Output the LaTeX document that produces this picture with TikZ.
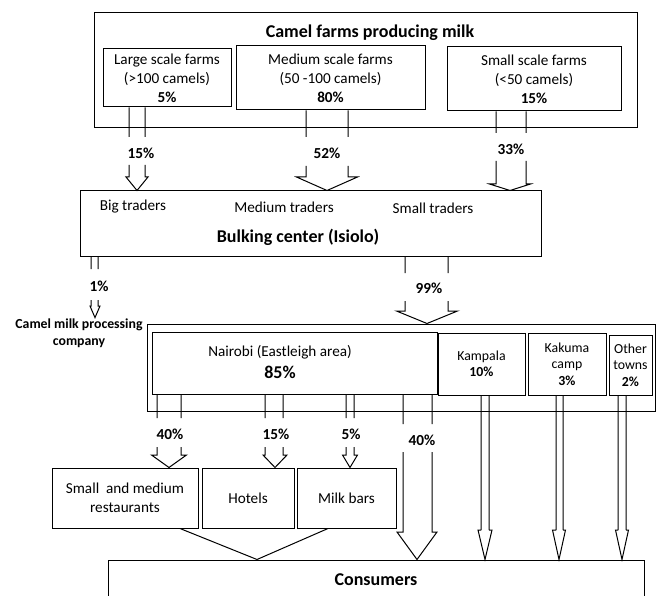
\documentclass[tikz,border=0pt]{standalone}
\usepackage{fontspec}
\setmainfont{Carlito}
\usepackage{tikz}
\tikzstyle{box} = [draw=black, line width=1pt, rectangle, inner sep=0pt, align=center, font=\fontsize{15.2}{19}\selectfont]
\tikzstyle{citybox} = [box, font=\fontsize{13.8}{16.5}\selectfont]
\tikzstyle{plain} = [inner sep=0pt, align=center, font=\fontsize{15.2}{20}\selectfont]
\tikzstyle{pct} = [inner sep=0pt, font=\bfseries\fontsize{15.3}{17}\selectfont]
\tikzstyle{headline} = [inner sep=0pt, font=\bfseries\fontsize{18}{20}\selectfont]
% open block arrow: src, dst, left x, right x, shaft end, shaft restart, head base, head half width, tip x
\newcommand{\flow}[9]{%
  \draw[line width=1pt] (#3,0 |- #1.south) -- (#3,#5) (#4,0 |- #1.south) -- (#4,#5)
    (#3,#6) -- (#3,#7) -- ({#9-#8},#7) -- (#9,0 |- #2.north) -- ({#9+#8},#7) -- (#4,#7) -- (#4,#6);}

\begin{document}
\begin{tikzpicture}[x=1pt,y=-1pt]
\useasboundingbox (0,0) rectangle (661,596);
\clip (0,0) rectangle (661,596);

% farms
\node[box, minimum width=543pt, minimum height=115pt] (farms) at (365.5,70.5) {};
\node[headline] (farmstitle) at (370,33) {Camel farms producing milk};
\node[box, minimum width=128pt, minimum height=58pt] (large) at (167,78)
  {Large scale farms\\(>100 camels)\\\textbf{5\%}};
\node[box, minimum width=189pt, minimum height=64pt] (medium) at (330.5,78)
  {Medium scale farms\\(50 -100 camels)\\\textbf{80\%}};
\node[box, minimum width=174pt, minimum height=64pt] (small) at (534,79)
  {Small scale farms\\(<50 camels)\\\textbf{15\%}};

% bulking center
\node[box, minimum width=461pt, minimum height=65pt] (bulk) at (310.5,223.5) {};
\node[plain] (bigtr) at (133,207) {Big traders};
\node[plain] (medtr) at (284,207) {Medium traders};
\node[plain] (smalltr) at (433,208) {Small traders};
\node[headline] (bulktitle) at (298,237) {Bulking center (Isiolo)};

\node[inner sep=1pt, align=center, font=\bfseries\fontsize{13.8}{16.5}\selectfont] (proc) at (79,333)
  {Camel milk processing\\company};

% destinations
\node[box, minimum width=508pt, minimum height=87pt] (dest) at (401,367.5) {};
\node[box, minimum width=285pt, minimum height=62pt] (nairobi) at (294.5,363) {};
\node[plain] (nairobitxt) at (280,352) {Nairobi (Eastleigh area)};
\node[headline] (nairobipct) at (280,372) {85\%};
\node[citybox, minimum width=87pt, minimum height=62pt] (kampala) at (481.5,364)
  {Kampala\\\textbf{10\%}};
\node[citybox, minimum width=78pt, minimum height=62pt] (kakuma) at (567,364)
  {Kakuma\\camp\\\textbf{3\%}};
\node[citybox, minimum width=43pt, minimum height=60pt] (other) at (630.5,365)
  {Other\\towns\\\textbf{2\%}};

% outlets
\node[box, minimum width=146pt, minimum height=60pt] (rest) at (125,498)
  {Small~ and medium\\restaurants};
\node[box, minimum width=92pt, minimum height=60pt] (hotel) at (248,498) {Hotels};
\node[box, minimum width=99pt, minimum height=60pt] (milk) at (346.5,498) {Milk bars};
\node[box, minimum width=536pt, minimum height=40pt, font=\bfseries\fontsize{18}{20}\selectfont] (cons) at (376,580) {Consumers};

% percentages
\node[pct] (p15) at (141,153) {15\%};
\node[pct] (p52) at (327,153) {52\%};
\node[pct] (p33) at (511,149) {33\%};
\node[pct] (p1) at (99,286) {1\%};
\node[pct] (p99) at (429,288) {99\%};
\node[pct] (p40a) at (170,434) {40\%};
\node[pct] (p15b) at (276,434) {15\%};
\node[pct] (p5) at (351,434) {5\%};
\node[pct] (p40b) at (422,440) {40\%};

% flows
\flow{large}{bulk}{129}{145}{137}{165}{177}{11}{137}
\flow{medium}{bulk}{306}{348}{137}{166}{177}{30.5}{327}
\flow{small}{bulk}{496}{526}{133}{161}{184}{20.5}{510}
\flow{bulk}{proc}{91}{98}{269}{300}{306}{5}{95}
\flow{bulk}{dest}{405}{448}{273}{301}{311}{30.5}{427}
\flow{nairobi}{rest}{157}{181}{418}{447}{455}{17.5}{169}
\flow{nairobi}{hotel}{265}{283}{418}{447}{455}{12}{275}
\flow{nairobi}{milk}{346}{354}{418}{447}{455}{7.5}{350}
\flow{nairobi}{cons}{403}{432}{424}{452}{532}{20}{417}
\flow{kampala}{cons}{481}{489}{530}{530}{530}{7}{485}
\flow{kakuma}{cons}{556}{563}{530}{530}{530}{6.5}{559}
\flow{other}{cons}{618}{626}{530}{530}{530}{6.5}{622}
\draw[line width=1pt] (180,0 |- rest.south) -- (257,0 |- cons.north) -- (328,0 |- milk.south);
\end{tikzpicture}
\end{document}
